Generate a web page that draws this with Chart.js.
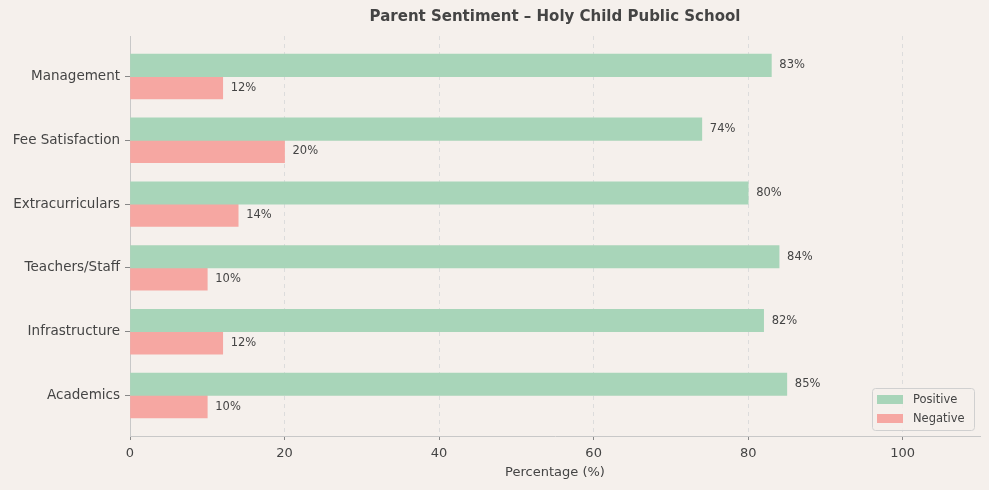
<!DOCTYPE html>
<html>
<head>
<meta charset="utf-8">
<script src="https://cdn.jsdelivr.net/npm/chart.js@4.4.0/dist/chart.umd.min.js"></script>
<style>
html,body{margin:0;padding:0;background:#f5f0ec;}
#wrap{width:989px;height:490px;position:relative;}
</style>
</head>
<body>
<div id="wrap"><canvas id="c" width="989" height="490"></canvas></div>
<script>
const categories = ["Management","Fee Satisfaction","Extracurriculars","Teachers/Staff","Infrastructure","Academics"];
const positiveValues = [83,74,80,84,82,85];
const negativeValues = [12,20,14,10,12,10];
const xTicks = [0,20,40,60,80,100];
const titleText = "Parent Sentiment – Holy Child Public School";
const xTitle = "Percentage (%)";

const FONT = "'DejaVu Sans', sans-serif";
const TXT = '#444444';

const titlePlugin = {
  id:'titleP',
  afterDraw(chart){
    const ctx = chart.ctx, a = chart.chartArea;
    ctx.save();
    ctx.font = "bold 15px " + FONT;
    ctx.fillStyle = TXT;
    ctx.textAlign='center'; ctx.textBaseline='middle';
    ctx.fillText(titleText, (a.left+a.right)/2, 17);
    ctx.restore();
  }
};
const labelPlugin = {
  id:'labelsP',
  afterDatasetsDraw(chart){
    const ctx = chart.ctx;
    ctx.save();
    ctx.font = "11.5px " + FONT;
    ctx.fillStyle = TXT;
    ctx.textAlign='left'; ctx.textBaseline='middle';
    chart.data.datasets.forEach((ds,di)=>{
      chart.getDatasetMeta(di).data.forEach((el,i)=>{
        ctx.fillText(ds.data[i].x + '%', el.x + 8, el.y);
      });
    });
    ctx.restore();
  }
};
const legendPlugin = {
  id:'legendP',
  afterDraw(chart){
    const ctx = chart.ctx, a = chart.chartArea;
    const w = 102, h = 42;
    const x = a.right - 6 - w, y = a.bottom - 48;
    ctx.save();
    ctx.fillStyle = 'rgba(245,240,236,0.85)';
    ctx.strokeStyle = '#d0d0d0';
    ctx.lineWidth = 1;
    ctx.beginPath();
    ctx.roundRect(x+0.5, y+0.5, w, h, 3);
    ctx.fill(); ctx.stroke();
    ctx.font = "11.5px " + FONT;
    ctx.textAlign='left'; ctx.textBaseline='middle';
    chart.data.datasets.forEach((ds,i)=>{
      const cy = y + 11 + i*19;
      ctx.fillStyle = ds.backgroundColor;
      ctx.fillRect(x+5, cy-4, 26, 9);
      ctx.fillStyle = TXT;
      ctx.fillText(ds.label, x+41, cy+1);
    });
    ctx.restore();
  }
};

new Chart(document.getElementById('c'), {
  type:'bar',
  data:{
    datasets:[
      {label:'Positive', data: positiveValues.map((v,i)=>({x:v,y:i-0.175})), backgroundColor:'#a8d5b9'},
      {label:'Negative', data: negativeValues.map((v,i)=>({x:v,y:i+0.175})), backgroundColor:'#f6a7a2'}
    ]
  },
  options:{
    indexAxis:'y',
    responsive:false,
    animation:false,
    devicePixelRatio:1,
    layout:{padding:{top:36,right:9,left:0,bottom:0}},
    datasets:{bar:{barThickness:22.4, grouped:false, borderWidth:0}},
    plugins:{legend:{display:false}, tooltip:{enabled:false}, title:{display:false}},
    scales:{
      x:{
        type:'linear', min:0, max:110,
        afterBuildTicks(s){ s.ticks = xTicks.map(v=>({value:v})); },
        afterFit(s){ s.height = 54; },
        grid:{color:'#dcdcdc', lineWidth:1, tickLength:4, tickColor:'#888', drawTicks:true},
        border:{display:true, color:'#c8c8c8', width:1, dash:[4,4]},
        ticks:{color:TXT, font:{family:FONT, size:13}, padding:6, maxRotation:0},
        title:{display:true, text:xTitle, color:TXT, font:{family:FONT, size:13}, padding:{top:2,bottom:10}}
      },
      y:{
        type:'linear', min:-0.635, max:5.635, reverse:true, offset:false,
        afterBuildTicks(s){ s.ticks = categories.map((c,i)=>({value:i})); },
        afterFit(s){ s.width = 130; },
        grid:{color:'rgba(0,0,0,0)', offset:false, tickLength:5, tickColor:'#888', drawTicks:true},
        border:{display:true, color:'#c8c8c8', width:1},
        ticks:{color:TXT, font:{family:FONT, size:13.5}, padding:5,
          callback(v){ return categories[Math.round(v)] ?? ''; }}
      }
    }
  },
  plugins:[titlePlugin, labelPlugin, legendPlugin]
});
</script>
</body>
</html>
